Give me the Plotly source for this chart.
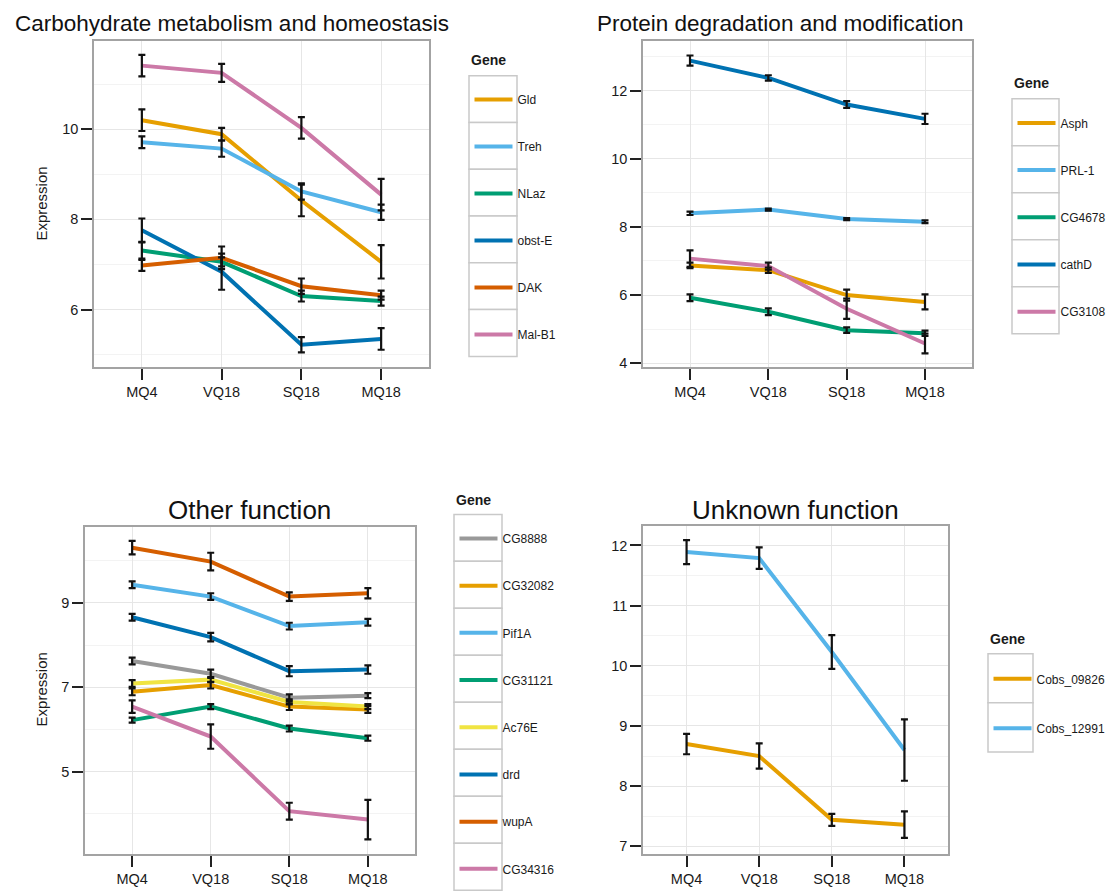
import plotly.graph_objects as go

W, H = 1117, 891
FONT = "Liberation Sans, Arial, Helvetica, sans-serif"

stages = ["MQ4", "VQ18", "SQ18", "MQ18"]

# ---- Panel 1: Carbohydrate metabolism and homeostasis ----
carb_genes = ["Gld", "Treh", "NLaz", "obst-E", "DAK", "Mal-B1"]
carb_vals = [
    [10.20, 9.89, 8.42, 7.06],
    [9.71, 9.57, 8.62, 8.16],
    [7.31, 7.06, 6.30, 6.19],
    [7.76, 6.84, 5.22, 5.35],
    [6.98, 7.15, 6.52, 6.32],
    [11.41, 11.25, 10.03, 8.55],
]
carb_err = [
    [0.24, 0.14, 0.35, 0.37],
    [0.13, 0.18, 0.18, 0.17],
    [0.18, 0.10, 0.12, 0.10],
    [0.26, 0.40, 0.17, 0.24],
    [0.12, 0.25, 0.17, 0.10],
    [0.24, 0.20, 0.24, 0.35],
]
carb_cols = ["#E69F00", "#56B4E9", "#009E73", "#0072B2", "#D55E00", "#CC79A7"]

# ---- Panel 2: Protein degradation and modification ----
prot_genes = ["Asph", "PRL-1", "CG4678", "cathD", "CG3108"]
prot_vals = [
    [6.87, 6.73, 6.00, 5.80],
    [8.40, 8.51, 8.23, 8.15],
    [5.92, 5.51, 4.97, 4.88],
    [12.88, 12.37, 11.59, 11.17],
    [7.07, 6.85, 5.60, 4.58],
]
prot_err = [
    [0.08, 0.08, 0.16, 0.22],
    [0.05, 0.03, 0.03, 0.04],
    [0.10, 0.10, 0.08, 0.08],
    [0.15, 0.08, 0.10, 0.15],
    [0.24, 0.10, 0.30, 0.29],
]
prot_cols = ["#E69F00", "#56B4E9", "#009E73", "#0072B2", "#CC79A7"]

# ---- Panel 3: Other function ----
other_genes = ["CG8888", "CG32082", "Pif1A", "CG31121", "Ac76E", "drd", "wupA", "CG34316"]
other_vals = [
    [7.62, 7.32, 6.75, 6.80],
    [6.89, 7.05, 6.54, 6.47],
    [9.43, 9.15, 8.45, 8.54],
    [6.22, 6.54, 6.02, 5.79],
    [7.09, 7.18, 6.65, 6.54],
    [8.66, 8.19, 7.38, 7.42],
    [10.31, 9.98, 9.15, 9.23],
    [6.54, 5.83, 4.06, 3.86],
]
other_err = [
    [0.08, 0.10, 0.08, 0.06],
    [0.08, 0.08, 0.08, 0.08],
    [0.08, 0.08, 0.08, 0.08],
    [0.06, 0.06, 0.07, 0.06],
    [0.08, 0.06, 0.06, 0.06],
    [0.08, 0.10, 0.12, 0.10],
    [0.16, 0.21, 0.10, 0.12],
    [0.15, 0.29, 0.20, 0.47],
]
other_cols = ["#999999", "#E69F00", "#56B4E9", "#009E73", "#F0E442", "#0072B2", "#D55E00", "#CC79A7"]

# ---- Panel 4: Unknown function ----
unk_genes = ["Cobs_09826", "Cobs_12991"]
unk_vals = [
    [8.70, 8.50, 7.44, 7.36],
    [11.89, 11.79, 10.23, 8.60],
]
unk_err = [
    [0.17, 0.21, 0.10, 0.22],
    [0.20, 0.18, 0.28, 0.51],
]
unk_cols = ["#E69F00", "#56B4E9"]


def px(x):
    return x / W


def py(y):
    return 1 - y / H


fig = go.Figure()

panels = [
    # genes, vals, err, cols, axis suffix, legend id
    (carb_genes, carb_vals, carb_err, carb_cols, "", "legend"),
    (prot_genes, prot_vals, prot_err, prot_cols, "2", "legend2"),
    (other_genes, other_vals, other_err, other_cols, "3", "legend3"),
    (unk_genes, unk_vals, unk_err, unk_cols, "4", "legend4"),
]

for genes, vals, errs, cols, sfx, leg in panels:
    xa, ya = "x" + sfx, "y" + sfx
    for g, v, c in zip(genes, vals, cols):
        fig.add_trace(go.Scatter(
            x=stages, y=v, mode="lines", name=g,
            line=dict(color=c, width=4),
            xaxis=xa, yaxis=ya, legend=leg, legendgroup=leg + "_" + g,
            showlegend=True,
        ))
    for g, v, e in zip(genes, vals, errs):
        fig.add_trace(go.Scatter(
            x=stages, y=v, mode="markers", name=g + " SE",
            marker=dict(size=1, color="rgba(0,0,0,0)"),
            error_y=dict(type="data", array=e, visible=True, color="#111111",
                         thickness=2.2, width=3.5),
            xaxis=xa, yaxis=ya, showlegend=False, hoverinfo="skip",
        ))

# Panel geometry in pixels: (left, right, top, bottom)
geo = {
    "": (94, 429, 41, 369),
    "2": (643, 972, 41, 369),
    "3": (85, 415, 529, 858),
    "4": (643, 948, 528, 858),
}
yranges = {
    "": ([4.72, 11.96], 2, 0, 1),
    "2": ([3.88, 13.46], 2, 0, 1),
    "3": ([3.04, 10.81], 2, 1, 1),
    "4": ([6.87, 12.33], 1, 0, 0.5),
}

layout = dict(
    width=W, height=H,
    margin=dict(l=0, r=0, t=0, b=0),
    paper_bgcolor="white", plot_bgcolor="white",
    font=dict(family=FONT, color="#1a1a1a"),
    showlegend=True,
)

for sfx, (l, r, t, b) in geo.items():
    rng, dt, t0, mdt = yranges[sfx]
    xkey = "xaxis" + sfx
    ykey = "yaxis" + sfx
    layout[xkey] = dict(
        domain=[px(l), px(r)], anchor="y" + sfx,
        type="category", categoryorder="array", categoryarray=stages,
        range=[-0.6, 3.6],
        showline=True, mirror=True, linecolor="#A3A3A3", linewidth=1.5,
        showgrid=True, gridcolor="#E6E6E6", gridwidth=1,
        ticks="outside", ticklen=11, tickwidth=2.2, tickcolor="#222222",
        tickfont=dict(size=14.5, family=FONT, color="#1a1a1a"),
        zeroline=False, fixedrange=True,
    )
    layout[ykey] = dict(
        domain=[py(b), py(t)], anchor="x" + sfx,
        range=rng, dtick=dt, tick0=t0,
        showline=True, mirror=True, linecolor="#A3A3A3", linewidth=1.5,
        showgrid=True, gridcolor="#E6E6E6", gridwidth=1,
        minor=dict(dtick=mdt, tick0=t0, showgrid=True, gridcolor="#F3F3F3", gridwidth=1, ticks=""),
        ticks="outside", ticklen=11, tickwidth=2.2, tickcolor="#222222",
        tickfont=dict(size=14.5, family=FONT, color="#1a1a1a"),
        zeroline=False, fixedrange=True,
    )

# Legend key boxes (pixels): id, left, right, top, row pitch, n rows, title y
legend_geo = [
    ("legend", 469, 517, 76, 47.0, len(carb_genes), 60),
    ("legend2", 1012, 1059, 99.3, 47.2, len(prot_genes), 83),
    ("legend3", 454, 502, 516.7, 47.2, len(other_genes), 502),
    ("legend4", 988, 1033, 656.7, 49.3, len(unk_genes), 642),
]

shapes = []
annotations = []
for lid, l, r, t, pitch, n, title_y in legend_geo:
    for i in range(n):
        shapes.append(dict(
            type="rect", xref="paper", yref="paper",
            x0=px(l), x1=px(r), y0=py(t + pitch * (i + 1)), y1=py(t + pitch * i),
            line=dict(color="#C9C9C9", width=1.5), fillcolor="white", layer="below",
        ))
    layout[lid] = dict(
        x=px(l + 0.5), xanchor="left",
        y=py(t + pitch / 2 - 14), yanchor="top",
        bgcolor="rgba(0,0,0,0)", borderwidth=0,
        font=dict(size=12, family=FONT, color="#1a1a1a"),
        tracegroupgap=pitch - 19, itemwidth=38,
        traceorder="grouped",
    )
    annotations.append(dict(
        text="<b>Gene</b>", xref="paper", yref="paper",
        x=px(l), y=py(title_y), xanchor="left", yanchor="middle",
        showarrow=False, font=dict(size=14, family=FONT, color="#1a1a1a"),
    ))

# Titles
titles = [
    ("Carbohydrate metabolism and homeostasis", 13, 24, "left", 22.5),
    ("Protein degradation and modification", 595, 24, "left", 22.5),
    ("Other function", 249, 512, "center", 26),
    ("Unknown function", 795, 512, "center", 26),
]
for txt, x, y, anc, sz in titles:
    annotations.append(dict(
        text=txt, xref="paper", yref="paper", x=px(x), y=py(y),
        xanchor=anc, yanchor="middle", showarrow=False,
        font=dict(size=sz, family=FONT, color="#111111"),
    ))

# Y axis titles
for yc in (205, 693):
    annotations.append(dict(
        text="Expression", xref="paper", yref="paper", x=px(41.5), y=py(yc),
        xanchor="center", yanchor="middle", textangle=-90, showarrow=False,
        font=dict(size=15, family=FONT, color="#1a1a1a"),
    ))

layout["shapes"] = shapes
layout["annotations"] = annotations
fig.update_layout(**layout)

fig.write_html("out.html")
